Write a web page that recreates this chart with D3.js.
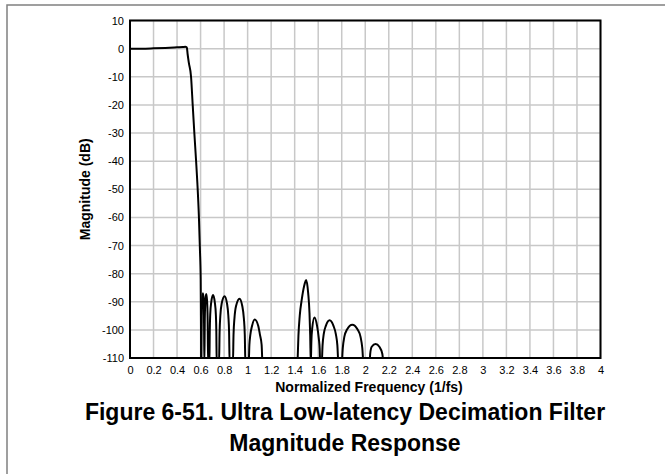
<!DOCTYPE html>
<html><head><meta charset="utf-8">
<script src="https://cdn.jsdelivr.net/npm/d3@7"></script>
<style>body{margin:0;background:#fff;} text{font-family:"Liberation Sans",Arial,sans-serif;}</style>
</head><body><svg id="c" width="665" height="474"></svg>
<script>
const xTicks = [0,0.2,0.4,0.6,0.8,1,1.2,1.4,1.6,1.8,2,2.2,2.4,2.6,2.8,3,3.2,3.4,3.6,3.8,4];
const xTickLabels = ["0","0.2","0.4","0.6","0.8","1","1.2","1.4","1.6","1.8","2","2.2","2.4","2.6","2.8","3","3.2","3.4","3.6","3.8","4"];
const yTicks = [10,0,-10,-20,-30,-40,-50,-60,-70,-80,-90,-100,-110];
const yTickLabels = ["10","0","-10","-20","-30","-40","-50","-60","-70","-80","-90","-100","-110"];
const xTitle = "Normalized Frequency (1/fs)";
const yTitle = "Magnitude (dB)";
const titleLines = ["Figure 6-51. Ultra Low-latency Decimation Filter","Magnitude Response"];

// frequency (1/fs) and magnitude (dB)
const passbandFreq = [0,0.1,0.2,0.3,0.4,0.45,0.47,0.483,0.49,0.5,0.519,0.533,0.547,0.562,0.573,0.586,0.595,0.601,0.603,0.605];
const passbandDb   = [0,0,0.1,0.25,0.45,0.55,0.65,0.4,-2,-5,-10,-20,-30,-40,-48,-60,-72,-82,-95,-112];
const stopband1Freq = [0.606,0.610,0.614,0.620,0.626,0.629,0.632,0.636,0.641,0.648,0.655,0.660,0.664,
  0.675,0.678,0.682,0.6905,0.706,0.721,0.730,0.734,0.737,
  0.757,0.7615,0.768,0.7795,0.804,0.8245,0.836,0.8425,0.847,
  0.875,0.880,0.888,0.9015,0.931,0.9545,0.968,0.976,0.981,
  1.009,1.015,1.023,1.038,1.060,1.09,1.105,1.119,1.125];
const stopband1Db = [-112,-95,-89,-87,-89,-95,-112,-96,-89.5,-87.2,-89.5,-96,-112,
  -112,-100.6,-94.6,-90.2,-87.6,-90.2,-94.6,-100.6,-112,
  -112,-101,-95,-90.6,-88,-90.6,-95,-101,-112,
  -112,-101.9,-95.9,-91.5,-88.9,-91.5,-95.9,-101.9,-112,
  -112,-105.3,-101.8,-98.5,-96.3,-98.5,-101.8,-105.3,-112];
const stopband2Freq = [1.424,1.432,1.443,1.461,1.480,1.498,1.515,1.526,1.532,1.537,
  1.542,1.549,1.568,1.59,1.605,1.613,1.617,
  1.63,1.637,1.647,1.665,1.697,1.73,1.75,1.763,1.772,
  1.80,1.809,1.822,1.845,1.89,1.935,1.96,1.975,1.985,
  2.036,2.042,2.055,2.088,2.12,2.145,2.154];
const stopband2Db = [-112,-102,-95,-89,-84.5,-82.3,-87,-94,-102,-112,
  -104,-99.5,-95.6,-98.5,-103,-107,-112,
  -112,-105.5,-101.5,-98.6,-96.6,-98.6,-101.5,-105.5,-112,
  -112,-106.5,-102.5,-99.9,-98.2,-99.9,-102.5,-106.5,-112,
  -112,-108.5,-106,-105,-106,-108.5,-112];

const svg = d3.select("#c");
const L = 130, R = 600.5, T = 20.5, B = 358;
const x = d3.scaleLinear().domain([0,4]).range([L,R]);
const y = d3.scaleLinear().domain([-110,10]).range([B,T]);

// outer frame
svg.append("rect").attr("x",7).attr("y",5).attr("width",700).attr("height",520)
  .attr("fill","none").attr("stroke","#808080").attr("stroke-width",1.5);

// grid
const g = svg.append("g");
g.selectAll(".vx").data(xTicks).join("line")
  .attr("x1",d=>x(d)).attr("x2",d=>x(d)).attr("y1",T).attr("y2",B)
  .attr("stroke","#c8c8c8").attr("stroke-width",1.5);
g.selectAll(".hy").data(yTicks).join("line")
  .attr("y1",d=>y(d)).attr("y2",d=>y(d)).attr("x1",L).attr("x2",R)
  .attr("stroke","#c8c8c8").attr("stroke-width",1.5);

// axes
const xAxis = d3.axisBottom(x).tickValues(xTicks).tickSize(0).tickPadding(8)
  .tickFormat((d,i)=>xTickLabels[i]);
const xa = svg.append("g").attr("transform",`translate(0,${B})`).call(xAxis);
xa.select(".domain").remove();
xa.selectAll("text").attr("font-size",11).attr("fill","#000").attr("font-family","Liberation Sans, Arial, sans-serif");
const yAxis = d3.axisLeft(y).tickValues(yTicks).tickSize(0).tickPadding(6)
  .tickFormat((d,i)=>yTickLabels[i]);
const ya = svg.append("g").attr("transform",`translate(${L},0)`).call(yAxis);
ya.select(".domain").remove();
ya.selectAll("text").attr("font-size",11).attr("fill","#000").attr("font-family","Liberation Sans, Arial, sans-serif");

// clip
svg.append("clipPath").attr("id","clip").append("rect")
  .attr("x",L).attr("y",T).attr("width",R-L).attr("height",B-T);

const line = d3.line().x(d=>x(d[0])).y(d=>y(d[1])).curve(d3.curveMonotoneX);
const series = [
  passbandFreq.map((f,i)=>[f,passbandDb[i]]),
  stopband1Freq.map((f,i)=>[f,stopband1Db[i]]),
  stopband2Freq.map((f,i)=>[f,stopband2Db[i]])
];
svg.append("g").attr("clip-path","url(#clip)").selectAll("path").data(series).join("path")
  .attr("d",line).attr("fill","none").attr("stroke","#000").attr("stroke-width",2)
  .attr("stroke-linejoin","round");

// plot border
svg.append("rect").attr("x",L).attr("y",T).attr("width",R-L).attr("height",B-T)
  .attr("fill","none").attr("stroke","#000").attr("stroke-width",2);

// axis titles
svg.append("text").attr("x",369).attr("y",392).attr("text-anchor","middle")
  .attr("font-size",14).attr("font-weight","bold").text(xTitle);
svg.append("text").attr("transform",`translate(90,${(T+B)/2}) rotate(-90)`).attr("text-anchor","middle")
  .attr("font-size",14).attr("font-weight","bold").text(yTitle);

// figure caption
svg.selectAll(".cap").data(titleLines).join("text")
  .attr("x",345).attr("y",(d,i)=>420+i*31).attr("text-anchor","middle")
  .attr("font-size",23).attr("font-weight","bold").text(d=>d);
</script></body></html>
